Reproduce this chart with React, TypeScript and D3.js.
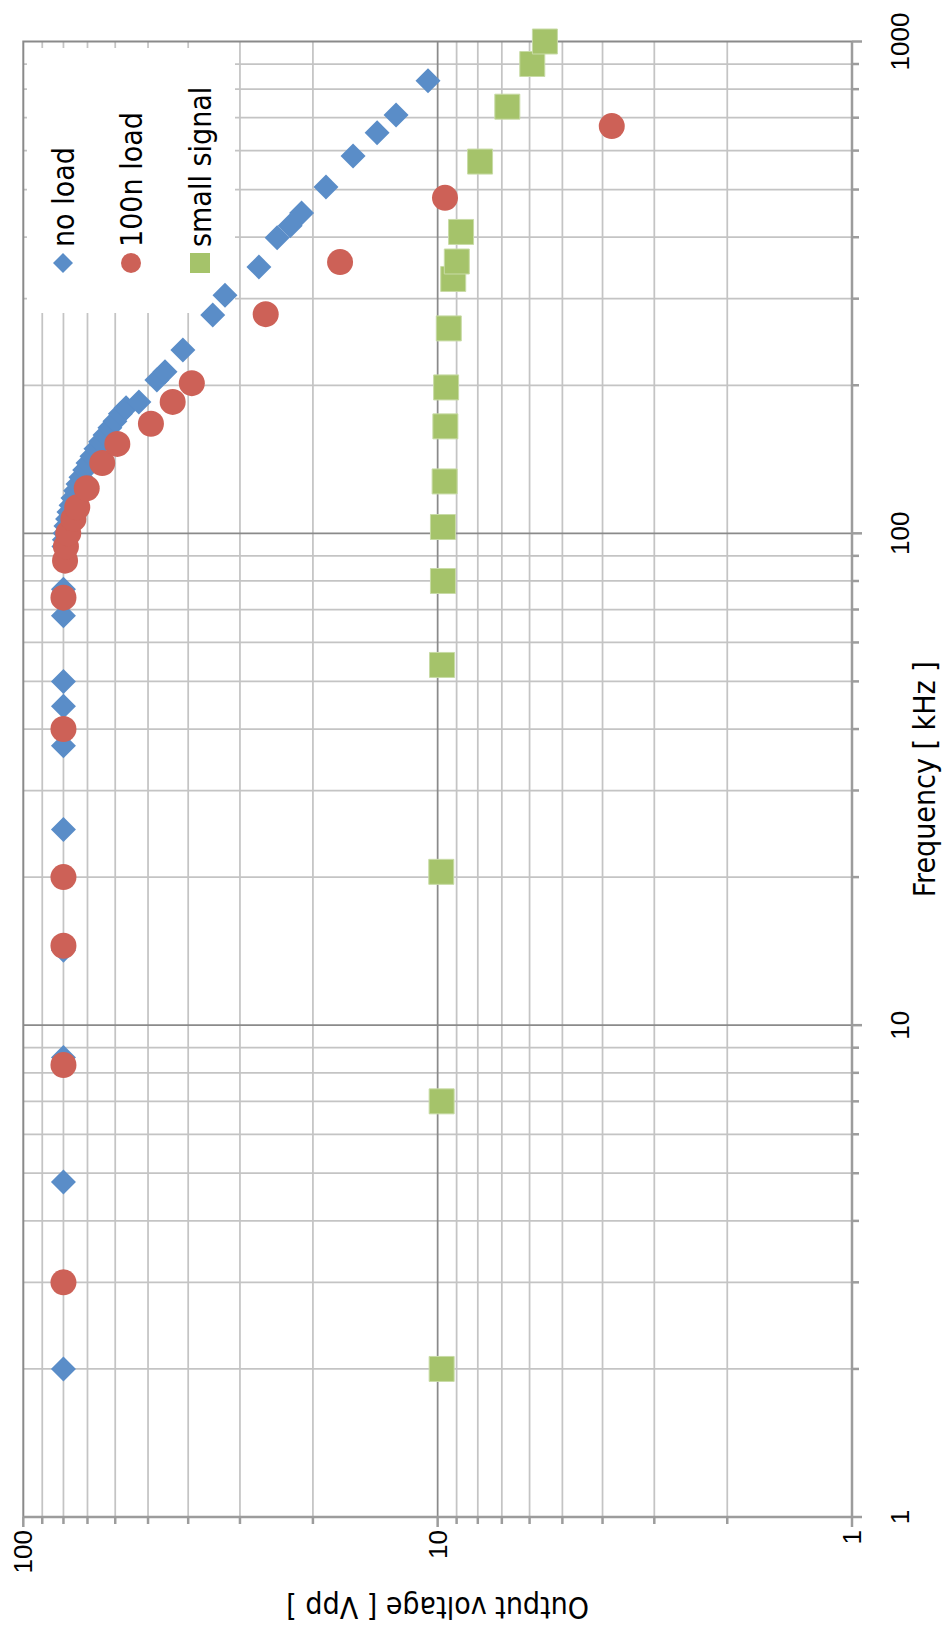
import React, { useRef, useEffect } from "react";
import * as d3 from "d3";

// page size; the chart is drawn unrotated and then turned -90deg as a whole
const W = 946;
const H = 1630;

// no load
const noLoadFreq = [2, 4.8, 8.6, 14.2, 25, 37, 44.5, 50, 68, 77, 94, 97, 100, 103.5, 107, 110.5, 114, 118, 122, 126, 130, 134.5, 139, 143.5, 148.5, 153.5, 158.5, 164, 169, 175, 180, 185, 205, 213, 236, 278, 305, 348, 399, 422, 448, 506, 585, 652, 709, 832];
const noLoadV = [80, 80, 80, 80, 80, 80, 80, 80, 80, 80, 79.8, 79.6, 79.3, 78.9, 78.2, 77.6, 76.7, 75.9, 74.8, 73.8, 72.6, 71.1, 69.8, 68.3, 66.8, 65.1, 63.5, 61.8, 60.1, 58.3, 56.5, 52.6, 47.6, 45.5, 41.2, 34.9, 32.6, 27.0, 24.4, 22.7, 21.3, 18.6, 16.0, 14.0, 12.6, 10.55];

// 100n load
const loadFreq = [3, 8.3, 14.5, 20, 40, 74, 88, 94, 100, 107, 113, 123.5, 139, 152, 167, 185, 202, 279, 356, 481, 673];
const loadV = [80, 80, 80, 80, 80, 80, 79.3, 78.9, 77.9, 75.7, 74.1, 70.3, 64.5, 59.3, 49.2, 43.6, 39.2, 26.0, 17.2, 9.6, 3.8];

// small signal
const smallFreq = [2, 7, 20.5, 54, 80, 103, 127.5, 165, 198, 261, 329, 357, 410, 570, 737, 900, 1000];
const smallV = [9.78, 9.78, 9.8, 9.76, 9.71, 9.71, 9.62, 9.58, 9.54, 9.4, 9.17, 8.99, 8.78, 7.9, 6.79, 5.91, 5.51];

const freqTicks = [1, 10, 100, 1000];
const voltTicks = [1, 10, 100];
const seriesNames = ["no load", "100n load", "small signal"];

const BLUE = "#5a8dc8";
const RED = "#cd6157";
const GREEN = "#a5c36a";

export default function App() {
  const ref = useRef<SVGSVGElement>(null);

  useEffect(() => {
    const svg = d3.select(ref.current);
    svg.selectAll("*").remove();

    const g = svg.append("g").attr("transform", `translate(0,${H}) rotate(-90)`);

    const x = d3.scaleLog().domain([1, 1000]).range([113, 1588.5]);
    const y = d3.scaleLog().domain([1, 100]).range([852, 23.3]);
    const [x0, x1] = x.range();
    const [yb, yt] = y.range();

    const minors = (decades: number[]) => decades.flatMap(d => d3.range(2, 10).map(k => k * d));
    const fMinor = minors([1, 10, 100]);
    const vMinor = minors([1, 10]);

    // gridlines
    g.append("g").selectAll("line").data(fMinor).join("line")
      .attr("x1", d => x(d)).attr("x2", d => x(d)).attr("y1", yt).attr("y2", yb)
      .attr("stroke", "#c4c4c4").attr("stroke-width", 1.75);
    g.append("g").selectAll("line").data(vMinor).join("line")
      .attr("x1", x0).attr("x2", x1).attr("y1", d => y(d)).attr("y2", d => y(d))
      .attr("stroke", "#c4c4c4").attr("stroke-width", 1.75);
    g.append("g").selectAll("line").data([10, 100]).join("line")
      .attr("x1", d => x(d)).attr("x2", d => x(d)).attr("y1", yt).attr("y2", yb)
      .attr("stroke", "#8a8a8a").attr("stroke-width", 1.75);
    g.append("line").attr("x1", x0).attr("x2", x1).attr("y1", y(10)).attr("y2", y(10))
      .attr("stroke", "#8a8a8a").attr("stroke-width", 1.75);

    // plot border (top / right in unrotated frame)
    g.append("path")
      .attr("d", `M${x0},${yt}H${x1}V${yb}`)
      .attr("fill", "none").attr("stroke", "#8a8a8a").attr("stroke-width", 2);

    // axes
    const axisCol = "#9c9c9c";
    g.append("line").attr("x1", x0).attr("x2", x1).attr("y1", yb).attr("y2", yb)
      .attr("stroke", axisCol).attr("stroke-width", 2.5);
    g.append("line").attr("x1", x0).attr("x2", x0).attr("y1", yt).attr("y2", yb)
      .attr("stroke", axisCol).attr("stroke-width", 2.5);
    g.append("g").selectAll("line").data([...fMinor, ...freqTicks]).join("line")
      .attr("x1", d => x(d)).attr("x2", d => x(d)).attr("y1", yb)
      .attr("y2", d => yb + (freqTicks.includes(d) ? 10 : 7))
      .attr("stroke", axisCol).attr("stroke-width", 2.5);
    g.append("g").selectAll("line").data([...vMinor, ...voltTicks]).join("line")
      .attr("y1", d => y(d)).attr("y2", d => y(d)).attr("x1", x0)
      .attr("x2", d => x0 - (voltTicks.includes(d) ? 10 : 7))
      .attr("stroke", axisCol).attr("stroke-width", 2.5);

    // tick labels
    const tickFont = "'Liberation Sans', Arial, sans-serif";
    g.append("g").selectAll("text").data(freqTicks).join("text")
      .attr("x", d => x(d)).attr("y", 909)
      .attr("text-anchor", "middle").attr("font-family", tickFont).attr("font-size", 26)
      .text(d => String(d));
    g.append("g").selectAll("text").data(voltTicks).join("text")
      .attr("x", x0 - 13).attr("y", d => y(d)).attr("dy", "0.35em")
      .attr("text-anchor", "end").attr("font-family", tickFont).attr("font-size", 26)
      .text(d => String(d));

    // titles
    const titleFont = "'DejaVu Sans Condensed', 'DejaVu Sans', sans-serif";
    g.append("text")
      .attr("x", (x0 + x1) / 2).attr("y", 935)
      .attr("text-anchor", "middle").attr("font-family", titleFont).attr("font-size", 30)
      .attr("font-stretch", "condensed")
      .text("Frequency [ kHz ]");
    g.append("text")
      .attr("transform", `translate(23,${y(10)}) rotate(-90)`)
      .attr("dy", "0.35em")
      .attr("text-anchor", "middle").attr("font-family", titleFont).attr("font-size", 30)
      .attr("font-stretch", "condensed")
      .text("Output voltage [ Vpp ]");

    // legend background
    g.append("rect").attr("x", 1317).attr("y", 27).attr("width", 265).attr("height", 208)
      .attr("fill", "#fff");

    // series
    const diamond = d3.symbol().type(d3.symbolSquare).size(312)();
    const circle = d3.symbol().type(d3.symbolCircle).size(531)();
    const square = d3.symbol().type(d3.symbolSquare).size(625)();

    g.append("g").selectAll("path").data(noLoadFreq).join("path")
      .attr("d", diamond)
      .attr("transform", (d, i) => `translate(${x(d)},${y(noLoadV[i])}) rotate(45)`)
      .attr("fill", BLUE);
    g.append("g").selectAll("path").data(loadFreq).join("path")
      .attr("d", circle)
      .attr("transform", (d, i) => `translate(${x(d)},${y(loadV[i])})`)
      .attr("fill", RED);
    g.append("g").selectAll("path").data(smallFreq).join("path")
      .attr("d", square)
      .attr("transform", (d, i) => `translate(${x(d)},${y(smallV[i])})`)
      .attr("fill", GREEN).attr("stroke", "#c8dba6").attr("stroke-width", 1);

    // legend entries
    const legSyms = [
      { d: d3.symbol().type(d3.symbolSquare).size(200)(), rot: 45, c: BLUE },
      { d: d3.symbol().type(d3.symbolCircle).size(314)(), rot: 0, c: RED },
      { d: d3.symbol().type(d3.symbolSquare).size(400)(), rot: 0, c: GREEN },
    ];
    const legV = [63, 131, 200];
    const leg = g.append("g").selectAll("g").data(seriesNames).join("g")
      .attr("transform", (d, i) => `translate(1367,${legV[i]})`);
    leg.append("path")
      .attr("d", (d, i) => legSyms[i].d)
      .attr("transform", (d, i) => `rotate(${legSyms[i].rot})`)
      .attr("fill", (d, i) => legSyms[i].c);
    leg.append("text")
      .attr("x", 16).attr("dy", "0.35em")
      .attr("font-family", titleFont).attr("font-size", 30).attr("font-stretch", "condensed")
      .text(d => d);
  }, []);

  return (
    <svg ref={ref} width={W} height={H} style={{ position: "absolute", left: 0, top: 0, background: "#fff" }} />
  );
}
